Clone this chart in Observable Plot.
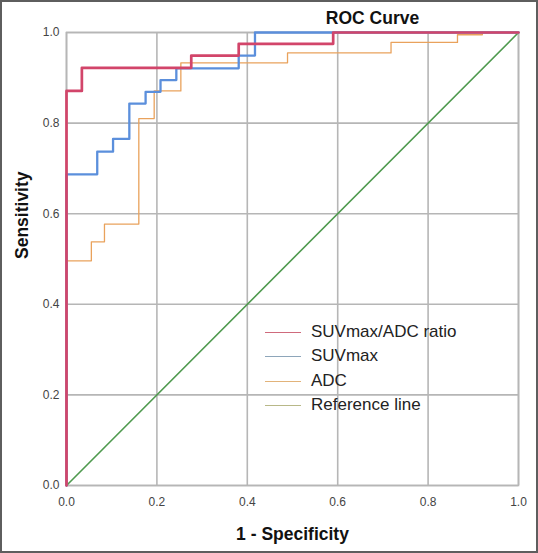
<!DOCTYPE html>
<html><head><meta charset="utf-8">
<script src="https://cdn.jsdelivr.net/npm/d3@7"></script>
<script src="https://cdn.jsdelivr.net/npm/@observablehq/plot@0.6"></script>
<style>
body{margin:0;background:#fff;}
#wrap{position:relative;width:538px;height:553px;font-family:"Liberation Sans",Arial,sans-serif;background:#fff;}
#border{position:absolute;left:0;top:0;width:538px;height:553px;box-sizing:border-box;border:2px solid #5e5e5e;pointer-events:none;}
#legend{position:absolute;left:265px;top:320px;font-size:17px;color:#222;}
#legend .row{height:24.3px;line-height:24.3px;white-space:nowrap;}
#legend .sw{display:inline-block;width:36px;height:0;border-top:1.5px solid;vertical-align:middle;margin-right:10px;}
</style></head><body><div id="wrap"><div id="border"></div></div>
<script>
const ticks = [0, 0.2, 0.4, 0.6, 0.8, 1.0];
const seriesNames = ["SUVmax/ADC ratio", "SUVmax", "ADC", "Reference line"];
const seriesColors = ["#d2456a", "#5b8fdc", "#e9a25c", "#4f9a4f"];
const legendColors = ["#cf6a7c", "#8ea6ba", "#e2b37a", "#b8b888"];

// SUVmax/ADC ratio ROC vertices (1 - specificity, sensitivity)
const ratioFpr = [0, 0, 0.034, 0.276, 0.381, 0.590, 1.0];
const ratioTpr = [0, 0.871, 0.922, 0.949, 0.975, 1.0, 1.0];
// SUVmax
const suvFpr = [0, 0, 0.068, 0.103, 0.139, 0.175, 0.208, 0.243, 0.381, 0.417, 1.0];
const suvTpr = [0, 0.687, 0.737, 0.765, 0.843, 0.869, 0.895, 0.921, 0.949, 1.0, 1.0];
// ADC
const adcFpr = [0, 0, 0.055, 0.084, 0.160, 0.194, 0.253, 0.489, 0.718, 0.865, 0.920, 1.0];
const adcTpr = [0, 0.496, 0.538, 0.577, 0.810, 0.871, 0.933, 0.955, 0.978, 0.995, 1.0, 1.0];
// Reference line
const refFpr = [0, 1];
const refTpr = [0, 1];

const toPts = (xs, ys) => xs.map((x, i) => ({x, y: ys[i]}));
const ratio = toPts(ratioFpr, ratioTpr);
const suv = toPts(suvFpr, suvTpr);
const adc = toPts(adcFpr, adcTpr);
const ref = toPts(refFpr, refTpr);

const gridColor = "#b6b6b6";

const chart = Plot.plot({
  width: 538,
  height: 553,
  marginLeft: 66,
  marginRight: 20,
  marginTop: 32,
  marginBottom: 68,
  style: {fontFamily: "'Liberation Sans', Arial, sans-serif", fontSize: "12px", color: "#444", background: "transparent"},
  x: {domain: [0, 1]},
  y: {domain: [0, 1]},
  marks: [
    Plot.gridX(ticks, {stroke: gridColor, strokeOpacity: 1, strokeWidth: 1.6}),
    Plot.gridY(ticks, {stroke: gridColor, strokeOpacity: 1, strokeWidth: 1.6}),
    Plot.frame({stroke: gridColor, strokeWidth: 1.6}),
    Plot.axisX({ticks, tickFormat: d3.format(".1f"), tickSize: 0, tickPadding: 12, label: null, fill: "#444"}),
    Plot.axisY({ticks, tickFormat: d3.format(".1f"), tickSize: 0, tickPadding: 7, label: null, fill: "#444"}),
    Plot.line(ref, {x: "x", y: "y", stroke: seriesColors[3], strokeWidth: 1.6}),
    Plot.line(adc, {x: "x", y: "y", curve: "step-after", stroke: seriesColors[2], strokeWidth: 1.3}),
    Plot.line(suv, {x: "x", y: "y", curve: "step-after", stroke: seriesColors[1], strokeWidth: 2.3}),
    Plot.line(ratio, {x: "x", y: "y", curve: "step-after", stroke: seriesColors[0], strokeWidth: 2.7}),
    Plot.text(["ROC Curve"], {text: d => d, frameAnchor: "top", lineAnchor: "middle", dx: 80, dy: -14, fontSize: 17.5, fontWeight: "bold", fill: "#111"}),
    Plot.text(["1 - Specificity"], {text: d => d, frameAnchor: "bottom", lineAnchor: "middle", dy: 49, fontSize: 17.5, fontWeight: "bold", fill: "#111"}),
    Plot.text(["Sensitivity"], {text: d => d, frameAnchor: "left", lineAnchor: "middle", dx: -44, rotate: -90, fontSize: 17.5, fontWeight: "bold", fill: "#111"})
  ]
});
const wrap = document.getElementById("wrap");
wrap.insertBefore(chart, wrap.firstChild);

const legend = document.createElement("div");
legend.id = "legend";
seriesNames.forEach((name, i) => {
  const row = document.createElement("div");
  row.className = "row";
  const sw = document.createElement("span");
  sw.className = "sw";
  sw.style.borderTopColor = legendColors[i];
  row.appendChild(sw);
  row.appendChild(document.createTextNode(name));
  legend.appendChild(row);
});
wrap.appendChild(legend);
</script>
</body></html>
